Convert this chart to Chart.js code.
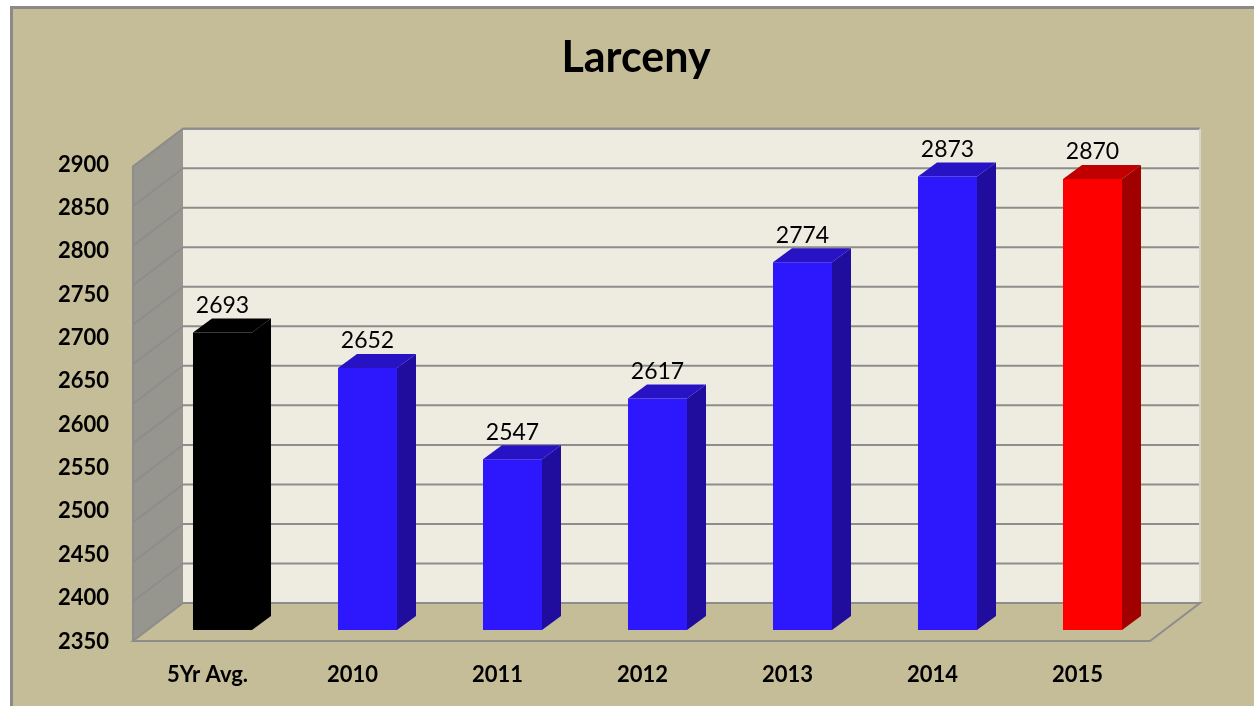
<!DOCTYPE html>
<html>
<head>
<meta charset="utf-8">
<title>Larceny</title>
<script src="https://cdn.jsdelivr.net/npm/chart.js@4/dist/chart.umd.min.js"></script>
<style>
  html, body { margin: 0; padding: 0; background: #ffffff; }
  #wrap { width: 1254px; height: 706px; }
</style>
</head>
<body>
<div id="wrap"><canvas id="chart" width="1254" height="706"></canvas></div>
<script>
// chart data
const categories = ["5Yr Avg.", "2010", "2011", "2012", "2013", "2014", "2015"];
const larcenyCounts = [2693, 2652, 2547, 2617, 2774, 2873, 2870];
const axisMin = 2350;
const axisMax = 2950;
const axisStep = 50;

// bar faces: front, side, top
const barColors = ["#000000", "#2d17fd", "#2d17fd", "#2d17fd", "#2d17fd", "#2d17fd", "#ff0000"];
const sideColors = ["#000000", "#200d9e", "#200d9e", "#200d9e", "#200d9e", "#200d9e", "#a10000"];
const topColors = ["#000000", "#2712c4", "#2712c4", "#2712c4", "#2712c4", "#2712c4", "#c00000"];

const FONT = "Lato, 'Open Sans', sans-serif";
const PANEL = "#c4bd97";
const WALL = "#eeece1";
const SIDE_WALL = "#97968e";
const GRID = "#8d8d8d";

// fake 3d room drawn behind the bars, derived from the y scale
const room = {
  backOffX: 33,   // back wall left, from chart area left
  backOffRight: 35,
  floorBack: -27, // back floor line, from chart area bottom
  depthX: 50,
  depthY: 38,
  shrink: 0.9115, // back wall is a bit flatter than the bar plane
};

function wallY(chart, v) {
  const ca = chart.chartArea;
  const y = chart.scales.y.getPixelForValue(v);
  return ca.bottom + room.floorBack - (ca.bottom - y) * room.shrink;
}

function poly(ctx, pts, fill, stroke) {
  ctx.beginPath();
  ctx.moveTo(pts[0][0], pts[0][1]);
  for (let i = 1; i < pts.length; i++) ctx.lineTo(pts[i][0], pts[i][1]);
  ctx.closePath();
  if (fill) { ctx.fillStyle = fill; ctx.fill(); }
  if (stroke) { ctx.strokeStyle = stroke; ctx.lineWidth = 2; ctx.stroke(); }
}

const roomPlugin = {
  id: "room",
  beforeDraw(chart) {
    const ctx = chart.ctx;
    const ca = chart.chartArea;
    ctx.save();
    // page + panel
    ctx.fillStyle = "#ffffff";
    ctx.fillRect(0, 0, chart.width, chart.height);
    ctx.fillStyle = PANEL;
    ctx.fillRect(11, 7, chart.width, chart.height);
    ctx.strokeStyle = "#8a8a8a";
    ctx.lineWidth = 3;
    ctx.strokeRect(11.5, 7.5, chart.width + 10, chart.height + 10);

    const bl = ca.left + room.backOffX;
    const br = ca.right + room.backOffRight;
    const bb = ca.bottom + room.floorBack;
    const bt = wallY(chart, axisMax);
    const dx = room.depthX, dy = room.depthY;

    // back wall
    poly(ctx, [[bl, bt], [br, bt], [br, bb], [bl, bb]], WALL, null);
    // side wall
    poly(ctx, [[bl - dx, bt + dy], [bl, bt], [bl, bb], [bl - dx, bb + dy]], SIDE_WALL, null);

    // grid lines on both walls
    ctx.strokeStyle = GRID;
    ctx.lineWidth = 2;
    for (let v = axisMin; v <= axisMax; v += axisStep) {
      const y = wallY(chart, v);
      ctx.beginPath();
      ctx.moveTo(bl - dx, y + dy);
      ctx.lineTo(bl, y);
      ctx.lineTo(br, y);
      ctx.stroke();
    }
    // wall edges
    ctx.beginPath();
    ctx.moveTo(bl - dx, bb + dy);
    ctx.lineTo(bl - dx, bt + dy);
    ctx.lineTo(bl, bt);
    ctx.lineTo(br, bt);
    ctx.stroke();
    ctx.strokeStyle = "#d8d6cc";
    ctx.beginPath();
    ctx.moveTo(br, bt);
    ctx.lineTo(br, bb);
    ctx.stroke();

    // floor
    poly(ctx, [[bl - dx, bb + dy], [bl, bb], [br, bb], [br - dx, bb + dy]], PANEL, GRID);
    ctx.restore();
  },
  afterDatasetsDraw(chart) {
    const ctx = chart.ctx;
    const meta = chart.getDatasetMeta(0);
    const ox = 19, oy = 14;
    ctx.save();
    meta.data.forEach((bar, i) => {
      const w = bar.width / 2;
      const l = bar.x - w, r = bar.x + w;
      const t = bar.y, b = chart.chartArea.bottom;
      poly(ctx, [[r, t], [r + ox, t - oy], [r + ox, b - oy], [r, b]], sideColors[i], null);
      poly(ctx, [[l, t], [l + ox, t - oy], [r + ox, t - oy], [r, t]], topColors[i], null);

      // value label
      ctx.fillStyle = "#000000";
      ctx.font = "23px " + FONT;
      ctx.textAlign = "center";
      ctx.textBaseline = "middle";
      ctx.fillText(String(larcenyCounts[i]), bar.x, t - 27);
    });
    ctx.restore();
  },
};

const chartInstance = new Chart(document.getElementById("chart").getContext("2d"), {
  type: "bar",
  data: {
    labels: categories,
    datasets: [
      {
        label: "Larceny",
        data: larcenyCounts,
        backgroundColor: barColors,
        borderWidth: 0,
        barPercentage: 0.407,
        categoryPercentage: 1,
      },
    ],
  },
  options: {
    responsive: false,
    animation: false,
    layout: { padding: { left: 18, right: 0, top: 0, bottom: 0 } },
    plugins: {
      legend: { display: false },
      tooltip: { enabled: false },
      title: {
        display: true,
        text: "Larceny",
        color: "#000000",
        font: { family: FONT, size: 43, weight: "bold", lineHeight: 1.2 },
        padding: { top: 32, bottom: 26 },
      },
    },
    scales: {
      x: {
        grid: { display: false },
        border: { display: false },
        ticks: {
          color: "#000000",
          font: { family: FONT, size: 22, weight: "bold" },
          labelOffset: -15,
          padding: 24,
          maxRotation: 0,
        },
        afterFit(scale) { scale.height = 76; },
      },
      y: {
        min: axisMin,
        max: axisMax,
        grid: { display: false, drawTicks: false },
        border: { display: false },
        ticks: {
          stepSize: axisStep,
          color: "#000000",
          font: { family: FONT, size: 22, weight: "bold" },
          padding: 41,
          labelOffset: 11.5,
          callback: (v) => (v === axisMax ? "" : v),
        },
        afterFit(scale) { scale.width = 132; },
      },
      // empty right axis, only reserves the space right of the bars
      yRight: {
        position: "right",
        grid: { display: false, drawTicks: false },
        border: { display: false },
        ticks: { display: false },
        afterFit(scale) { scale.width = 89; },
      },
    },
  },
  plugins: [roomPlugin],
});
</script>
</body>
</html>
